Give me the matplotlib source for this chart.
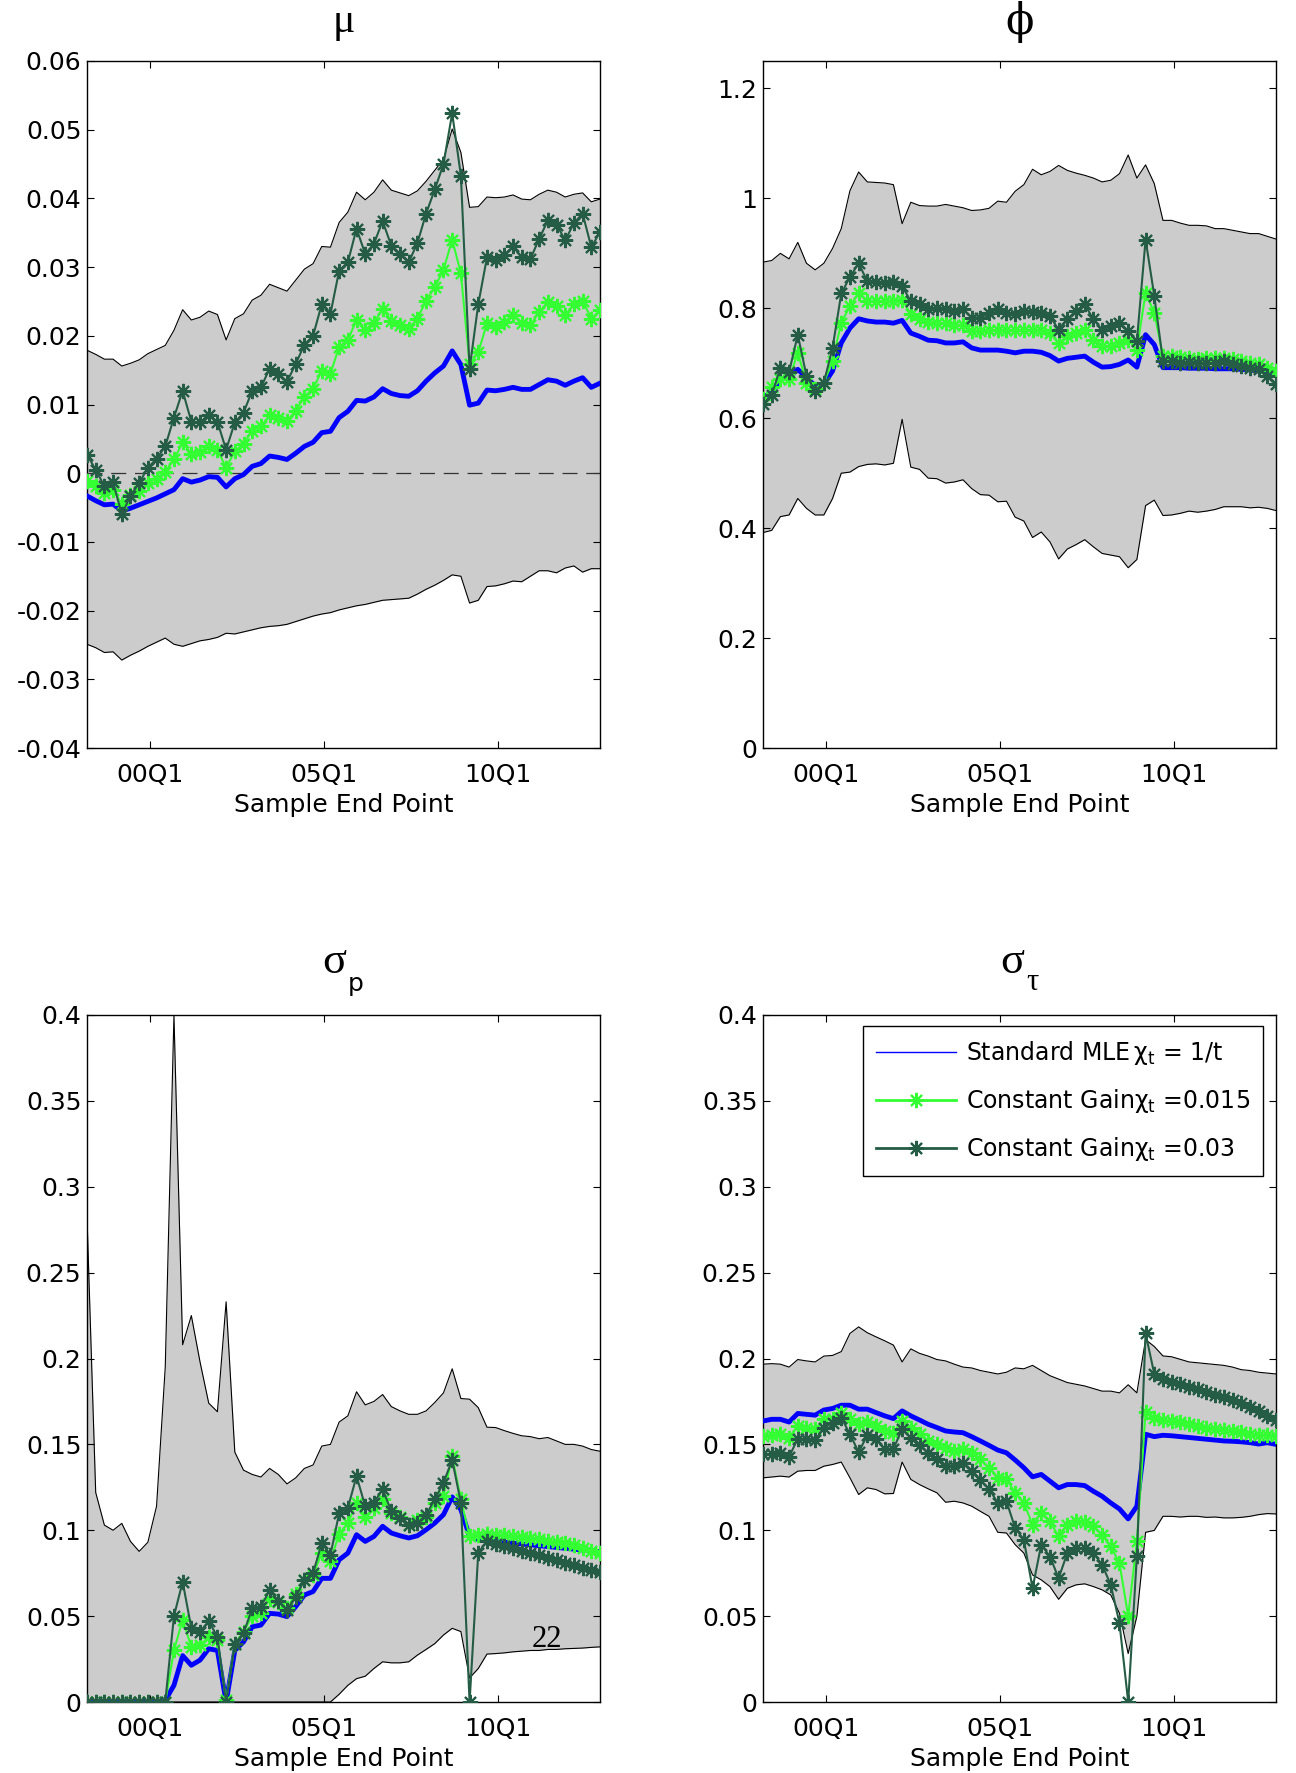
import matplotlib
matplotlib.use('Agg')
import matplotlib.pyplot as plt
import numpy as np
from matplotlib.lines import Line2D
from matplotlib.ticker import FuncFormatter

plt.rcParams['font.family'] = ['DejaVu Sans']
plt.rcParams['font.size'] = 18

# quarterly sample end points, 00Q1 / 05Q1 / 10Q1 tick positions
n_obs = 60
tick_pos = [7.3, 27.3, 47.3]
tick_labels = ['00Q1', '05Q1', '10Q1']

# ---- mu ----
mu_upper = [0.0179, 0.0173, 0.0166, 0.0166, 0.0156, 0.0160, 0.0165, 0.0174, 0.0180, 0.0186,
            0.0208, 0.0238, 0.0223, 0.0227, 0.0236, 0.0231, 0.0194, 0.0225, 0.0232, 0.0252,
            0.0259, 0.0275, 0.0270, 0.0265, 0.0281, 0.0297, 0.0305, 0.0330, 0.0329, 0.0365,
            0.0380, 0.0409, 0.0398, 0.0409, 0.0427, 0.0412, 0.0408, 0.0404, 0.0411, 0.0425,
            0.0441, 0.0457, 0.0501, 0.0467, 0.0387, 0.0388, 0.0402, 0.0401, 0.0402, 0.0405,
            0.0399, 0.0398, 0.0406, 0.0412, 0.0409, 0.0402, 0.0406, 0.0408, 0.0395, 0.0399]
mu_lower = [-0.0249, -0.0254, -0.0261, -0.0260, -0.0272, -0.0265, -0.0259, -0.0252, -0.0246, -0.0240,
            -0.0249, -0.0252, -0.0248, -0.0244, -0.0242, -0.0239, -0.0233, -0.0234, -0.0231, -0.0228,
            -0.0225, -0.0223, -0.0222, -0.0220, -0.0216, -0.0212, -0.0208, -0.0205, -0.0203, -0.0199,
            -0.0196, -0.0193, -0.0191, -0.0188, -0.0185, -0.0184, -0.0183, -0.0182, -0.0176, -0.0169,
            -0.0163, -0.0156, -0.0148, -0.0150, -0.0189, -0.0185, -0.0165, -0.0164, -0.0161, -0.0157,
            -0.0158, -0.0150, -0.0142, -0.0142, -0.0145, -0.0138, -0.0135, -0.0144, -0.0139, -0.0139]
mu_mle = [-0.0033, -0.0040, -0.0046, -0.0045, -0.0055, -0.0051, -0.0046, -0.0041, -0.0036, -0.0030,
          -0.0024, -0.0008, -0.0013, -0.0010, -0.0005, -0.0006, -0.0020, -0.0008, -0.0002, 0.0010,
          0.0014, 0.0025, 0.0023, 0.0020, 0.0029, 0.0039, 0.0045, 0.0059, 0.0061, 0.0081,
          0.0090, 0.0106, 0.0105, 0.0111, 0.0123, 0.0116, 0.0113, 0.0112, 0.0120, 0.0134,
          0.0146, 0.0156, 0.0178, 0.0158, 0.0099, 0.0102, 0.0121, 0.0120, 0.0122, 0.0125,
          0.0122, 0.0122, 0.0129, 0.0136, 0.0134, 0.0128, 0.0134, 0.0139, 0.0125, 0.0131]
mu_cg015 = [-0.0012, -0.0019, -0.0029, -0.0024, -0.0045, -0.0032, -0.0026, -0.0014, -0.0008, 0.0002,
            0.0020, 0.0045, 0.0028, 0.0031, 0.0039, 0.0034, 0.0008, 0.0032, 0.0042, 0.0062,
            0.0068, 0.0084, 0.0080, 0.0076, 0.0091, 0.0111, 0.0123, 0.0149, 0.0145, 0.0184,
            0.0194, 0.0223, 0.0208, 0.0219, 0.0239, 0.0222, 0.0215, 0.0210, 0.0225, 0.0251,
            0.0271, 0.0296, 0.0340, 0.0291, 0.0159, 0.0176, 0.0218, 0.0213, 0.0220, 0.0230,
            0.0218, 0.0215, 0.0235, 0.0249, 0.0244, 0.0230, 0.0246, 0.0251, 0.0225, 0.0237]
mu_cg03 = [0.0027, 0.0005, -0.0019, -0.0013, -0.0060, -0.0033, -0.0014, 0.0008, 0.0021, 0.0039,
           0.0081, 0.0120, 0.0075, 0.0074, 0.0084, 0.0075, 0.0034, 0.0074, 0.0088, 0.0120,
           0.0125, 0.0152, 0.0145, 0.0133, 0.0159, 0.0187, 0.0200, 0.0246, 0.0232, 0.0295,
           0.0307, 0.0356, 0.0319, 0.0334, 0.0367, 0.0331, 0.0319, 0.0307, 0.0335, 0.0378,
           0.0413, 0.0450, 0.0524, 0.0433, 0.0152, 0.0246, 0.0314, 0.0310, 0.0318, 0.0330,
           0.0314, 0.0312, 0.0341, 0.0368, 0.0362, 0.0339, 0.0364, 0.0378, 0.0329, 0.0351]

# ---- phi ----
phi_upper = [0.884, 0.887, 0.900, 0.890, 0.920, 0.882, 0.870, 0.882, 0.909, 0.945,
             1.014, 1.048, 1.030, 1.029, 1.028, 1.025, 0.954, 0.993, 0.987, 0.986,
             0.986, 0.989, 0.986, 0.983, 0.978, 0.979, 0.982, 0.995, 0.993, 1.013,
             1.025, 1.053, 1.043, 1.049, 1.060, 1.051, 1.046, 1.042, 1.037, 1.030,
             1.033, 1.045, 1.079, 1.037, 1.061, 1.027, 0.960, 0.960, 0.955, 0.951,
             0.951, 0.950, 0.945, 0.945, 0.942, 0.939, 0.936, 0.936, 0.931, 0.926]
phi_lower = [0.392, 0.396, 0.421, 0.424, 0.454, 0.436, 0.424, 0.424, 0.454, 0.500,
             0.502, 0.512, 0.516, 0.517, 0.515, 0.518, 0.598, 0.511, 0.507, 0.491,
             0.490, 0.482, 0.484, 0.488, 0.472, 0.461, 0.460, 0.448, 0.449, 0.420,
             0.413, 0.383, 0.393, 0.375, 0.344, 0.362, 0.370, 0.379, 0.366, 0.354,
             0.351, 0.348, 0.328, 0.343, 0.441, 0.451, 0.423, 0.424, 0.427, 0.431,
             0.429, 0.431, 0.434, 0.439, 0.439, 0.439, 0.437, 0.438, 0.436, 0.432]
phi_mle = [0.638, 0.647, 0.671, 0.674, 0.689, 0.674, 0.659, 0.662, 0.686, 0.737,
           0.764, 0.781, 0.777, 0.775, 0.775, 0.773, 0.778, 0.755, 0.749, 0.742,
           0.741, 0.737, 0.737, 0.739, 0.728, 0.724, 0.724, 0.724, 0.722, 0.719,
           0.722, 0.722, 0.720, 0.714, 0.704, 0.709, 0.711, 0.713, 0.702, 0.693,
           0.694, 0.698, 0.706, 0.693, 0.752, 0.734, 0.692, 0.692, 0.692, 0.691,
           0.691, 0.691, 0.690, 0.690, 0.690, 0.689, 0.688, 0.686, 0.684, 0.680]
phi_cg015 = [0.635, 0.656, 0.671, 0.671, 0.719, 0.665, 0.653, 0.665, 0.704, 0.774,
             0.804, 0.828, 0.813, 0.813, 0.813, 0.813, 0.816, 0.789, 0.780, 0.775,
             0.773, 0.773, 0.770, 0.769, 0.758, 0.758, 0.761, 0.760, 0.760, 0.761,
             0.761, 0.761, 0.760, 0.755, 0.737, 0.749, 0.755, 0.760, 0.743, 0.731,
             0.731, 0.737, 0.743, 0.725, 0.828, 0.792, 0.713, 0.713, 0.712, 0.710,
             0.708, 0.710, 0.710, 0.710, 0.707, 0.704, 0.701, 0.698, 0.692, 0.686]
phi_cg03 = [0.626, 0.642, 0.692, 0.684, 0.752, 0.677, 0.650, 0.665, 0.728, 0.827,
            0.857, 0.882, 0.849, 0.847, 0.846, 0.847, 0.840, 0.813, 0.807, 0.798,
            0.801, 0.798, 0.795, 0.798, 0.783, 0.783, 0.792, 0.798, 0.792, 0.790,
            0.796, 0.793, 0.792, 0.786, 0.761, 0.780, 0.795, 0.807, 0.780, 0.761,
            0.767, 0.774, 0.758, 0.740, 0.925, 0.823, 0.704, 0.704, 0.701, 0.702,
            0.701, 0.700, 0.701, 0.704, 0.698, 0.695, 0.692, 0.689, 0.677, 0.662]

# ---- sigma_p ----
sp_upper = [0.2825, 0.122, 0.103, 0.100, 0.104, 0.0935, 0.0877, 0.093, 0.114, 0.195,
            0.400, 0.208, 0.225, 0.198, 0.174, 0.169, 0.233, 0.1455, 0.135, 0.1325,
            0.131, 0.136, 0.1325, 0.127, 0.1305, 0.136, 0.138, 0.149, 0.150, 0.163,
            0.1666, 0.1806, 0.173, 0.175, 0.179, 0.172, 0.1695, 0.1675, 0.1675, 0.1695,
            0.1744, 0.180, 0.194, 0.1767, 0.1763, 0.1714, 0.160, 0.1598, 0.158, 0.1564,
            0.155, 0.1545, 0.1533, 0.154, 0.152, 0.150, 0.150, 0.149, 0.147, 0.146]
sp_lower = [0.0, 0.0, 0.0, 0.0, 0.0, 0.0, 0.0, 0.0, 0.0, 0.0,
            0.0, 0.0, 0.0, 0.0, 0.0, 0.0, 0.0, 0.0, 0.0, 0.0,
            0.0, 0.0, 0.0, 0.0, 0.0, 0.0, 0.0, 0.0, 0.0, 0.0045,
            0.0097, 0.0136, 0.015, 0.0195, 0.0234, 0.0228, 0.0228, 0.0234, 0.0273, 0.0306,
            0.034, 0.039, 0.0429, 0.041, 0.014, 0.0195, 0.0279, 0.0282, 0.0286, 0.0292,
            0.0296, 0.030, 0.030, 0.0306, 0.0306, 0.031, 0.0312, 0.0314, 0.0318, 0.0321]
sp_mle = [0.0, 0.0, 0.0, 0.0, 0.0, 0.0, 0.0, 0.0, 0.0, 0.001,
          0.0097, 0.027, 0.0214, 0.0244, 0.031, 0.030, 0.0, 0.030, 0.035, 0.0438,
          0.0448, 0.0516, 0.0512, 0.0497, 0.0555, 0.0623, 0.0643, 0.072, 0.072, 0.0828,
          0.0867, 0.0974, 0.0935, 0.0964, 0.1023, 0.0984, 0.0968, 0.0955, 0.0968, 0.1003,
          0.1042, 0.1091, 0.1194, 0.112, 0.0964, 0.0945, 0.094, 0.0935, 0.093, 0.0925,
          0.092, 0.0915, 0.091, 0.0905, 0.090, 0.0895, 0.089, 0.0885, 0.088, 0.0875]
sp_cg015 = [0.0, 0.0, 0.0, 0.0, 0.0, 0.0, 0.0, 0.0, 0.0, 0.0,
            0.030, 0.048, 0.032, 0.033, 0.038, 0.036, 0.001, 0.034, 0.041, 0.050,
            0.0516, 0.060, 0.058, 0.0545, 0.063, 0.071, 0.074, 0.0867, 0.082, 0.098,
            0.104, 0.116, 0.108, 0.113, 0.118, 0.110, 0.108, 0.103, 0.106, 0.108,
            0.116, 0.120, 0.143, 0.118, 0.0964, 0.0974, 0.098, 0.0975, 0.097, 0.0968,
            0.096, 0.0952, 0.0948, 0.094, 0.0932, 0.0925, 0.0912, 0.0895, 0.0882, 0.0865]
sp_cg03 = [0.0, 0.0, 0.0, 0.0, 0.0, 0.0, 0.0, 0.0, 0.0, 0.0,
           0.050, 0.070, 0.043, 0.041, 0.047, 0.038, 0.0, 0.034, 0.040, 0.0545,
           0.0555, 0.065, 0.059, 0.0536, 0.061, 0.071, 0.075, 0.0925, 0.0857, 0.110,
           0.113, 0.1315, 0.114, 0.116, 0.124, 0.111, 0.107, 0.103, 0.104, 0.109,
           0.118, 0.1276, 0.141, 0.116, 0.0, 0.087, 0.0935, 0.092, 0.091, 0.0895,
           0.088, 0.087, 0.0855, 0.084, 0.0825, 0.081, 0.080, 0.078, 0.077, 0.0755]

# ---- sigma_tau ----
st_upper = [0.1967, 0.197, 0.1967, 0.195, 0.1994, 0.1986, 0.198, 0.2014, 0.2018, 0.204,
            0.2146, 0.2184, 0.215, 0.2126, 0.2103, 0.2078, 0.198, 0.2056, 0.203, 0.2014,
            0.1994, 0.1986, 0.1967, 0.195, 0.1945, 0.193, 0.192, 0.191, 0.192, 0.1945,
            0.194, 0.196, 0.193, 0.190, 0.188, 0.186, 0.185, 0.184, 0.1825, 0.181,
            0.181, 0.180, 0.1847, 0.180, 0.211, 0.207, 0.2015, 0.201, 0.1995, 0.198,
            0.1975, 0.197, 0.1965, 0.196, 0.195, 0.1935, 0.193, 0.192, 0.1915, 0.191]
st_lower = [0.1305, 0.131, 0.1315, 0.131, 0.1344, 0.1348, 0.1348, 0.1373, 0.1383, 0.1397,
            0.1305, 0.1208, 0.1247, 0.1237, 0.1212, 0.1214, 0.1397, 0.1296, 0.1266, 0.1241,
            0.1218, 0.1163, 0.1169, 0.1159, 0.114, 0.111, 0.1081, 0.0988, 0.0984, 0.0916,
            0.0867, 0.074, 0.0711, 0.0672, 0.0598, 0.0662, 0.0682, 0.0688, 0.0672, 0.0653,
            0.0623, 0.0516, 0.0282, 0.050, 0.0988, 0.0999, 0.1081, 0.1081, 0.1077, 0.1081,
            0.1081, 0.1075, 0.1077, 0.1072, 0.1072, 0.1075, 0.1081, 0.1091, 0.1097, 0.1095]
st_mle = [0.1636, 0.1646, 0.1646, 0.163, 0.168, 0.1675, 0.167, 0.170, 0.1709, 0.1728,
          0.1728, 0.1705, 0.1705, 0.1685, 0.1666, 0.165, 0.1695, 0.1666, 0.1642, 0.1617,
          0.1598, 0.1578, 0.1572, 0.1568, 0.1545, 0.152, 0.1494, 0.1467, 0.1451, 0.1409,
          0.1364, 0.1311, 0.1325, 0.1286, 0.1247, 0.1266, 0.1266, 0.126, 0.1227, 0.1198,
          0.1159, 0.1124, 0.1066, 0.114, 0.1559, 0.1545, 0.1553, 0.155, 0.1545, 0.154,
          0.1535, 0.153, 0.1525, 0.152, 0.1518, 0.1515, 0.151, 0.1502, 0.151, 0.150]
st_cg015 = [0.1549, 0.1553, 0.1559, 0.154, 0.1607, 0.1598, 0.1588, 0.1646, 0.165, 0.1685,
            0.1646, 0.1617, 0.163, 0.1607, 0.1578, 0.1568, 0.1636, 0.1598, 0.1559, 0.152,
            0.150, 0.148, 0.146, 0.1471, 0.1451, 0.1412, 0.1364, 0.1305, 0.1296, 0.1218,
            0.1159, 0.1033, 0.110, 0.1052, 0.0964, 0.1033, 0.1052, 0.1046, 0.1023, 0.0974,
            0.0906, 0.0808, 0.050, 0.0935, 0.1689, 0.1656, 0.1642, 0.1638, 0.163, 0.162,
            0.1608, 0.1598, 0.159, 0.1585, 0.1575, 0.157, 0.1562, 0.1555, 0.1552, 0.1549]
st_cg03 = [0.1442, 0.1442, 0.1447, 0.1428, 0.1533, 0.1529, 0.1525, 0.1598, 0.1627, 0.1656,
           0.1559, 0.1455, 0.1553, 0.1529, 0.1471, 0.1475, 0.1588, 0.1539, 0.1494, 0.1451,
           0.1412, 0.1377, 0.1377, 0.1393, 0.1344, 0.1292, 0.1241, 0.1159, 0.1169, 0.1013,
           0.0945, 0.0662, 0.0916, 0.0847, 0.0721, 0.0867, 0.0896, 0.0896, 0.0867, 0.0799,
           0.0682, 0.0458, 0.0, 0.0851, 0.2146, 0.191, 0.188, 0.1865, 0.185, 0.1835,
           0.182, 0.1805, 0.179, 0.1775, 0.176, 0.174, 0.172, 0.1695, 0.1665, 0.164]

blue = '#0000ff'
light_green = '#33ff33'
dark_green = '#245c45'
band_grey = '#cccccc'
star = (8, 2, 0)

fig = plt.figure(figsize=(12.96, 17.73), dpi=100)
W, H = 1296.0, 1773.0


def axes_px(left, top, right, bottom):
    return fig.add_axes([left / W, 1 - bottom / H, (right - left) / W, (bottom - top) / H])


ax_mu = axes_px(87, 61, 600, 748)
ax_phi = axes_px(763, 61, 1276, 748)
ax_sp = axes_px(87, 1015, 600, 1702)
ax_st = axes_px(763, 1015, 1276, 1702)

x = np.arange(n_obs)


def draw_panel(ax, lower, upper, mle, cg015, cg03, ylim, yticks):
    ax.fill_between(x, lower, upper, color=band_grey, lw=0, zorder=1)
    ax.plot(x, upper, color='black', lw=0.8, zorder=2)
    ax.plot(x, lower, color='black', lw=0.8, zorder=2)
    ax.plot(x, mle, color=blue, lw=3.5, zorder=4, solid_joinstyle='round')
    ax.plot(x, cg015, color=light_green, lw=1.5, marker=star, ms=11, mew=1.5, zorder=5)
    ax.plot(x, cg03, color=dark_green, lw=1.5, marker=star, ms=11, mew=1.5, zorder=6)
    ax.set_xlim(0, n_obs - 1)
    ax.set_ylim(*ylim)
    ax.set_yticks(yticks)
    ax.yaxis.set_major_formatter(FuncFormatter(lambda v, p: '%g' % round(v, 4)))
    ax.set_xticks(tick_pos)
    ax.set_xticklabels(tick_labels)
    ax.set_xlabel('Sample End Point', labelpad=4)
    ax.tick_params(direction='in', length=5, width=0.8, top=True, right=True, labelsize=18)
    ax.tick_params(axis='x', pad=11)
    ax.tick_params(axis='y', pad=4)
    for sp in ax.spines.values():
        sp.set_linewidth(1.0)


draw_panel(ax_mu, mu_lower, mu_upper, mu_mle, mu_cg015, mu_cg03,
           (-0.04, 0.06), [-0.04, -0.03, -0.02, -0.01, 0, 0.01, 0.02, 0.03, 0.04, 0.05, 0.06])
ax_mu.axhline(0, color='#333333', lw=0.9, dashes=(12, 7), zorder=3)

draw_panel(ax_phi, phi_lower, phi_upper, phi_mle, phi_cg015, phi_cg03,
           (0, 1.25), [0, 0.2, 0.4, 0.6, 0.8, 1.0, 1.2])
draw_panel(ax_sp, sp_lower, sp_upper, sp_mle, sp_cg015, sp_cg03,
           (0, 0.4), [0, 0.05, 0.1, 0.15, 0.2, 0.25, 0.3, 0.35, 0.4])
draw_panel(ax_st, st_lower, st_upper, st_mle, st_cg015, st_cg03,
           (0, 0.4), [0, 0.05, 0.1, 0.15, 0.2, 0.25, 0.3, 0.35, 0.4])

greek = ['Liberation Serif', 'DejaVu Serif']
ax_mu.text(0.5, 1.042, '\u03bc', transform=ax_mu.transAxes, ha='center', va='baseline',
           fontsize=30, family=greek)
ax_phi.text(0.5, 1.040, '\u03d5', transform=ax_phi.transAxes, ha='center', va='baseline',
            fontsize=30, family=['DejaVu Serif'])
ax_sp.text(0.482, 1.061, '\u03c3', transform=ax_sp.transAxes, ha='center', va='baseline',
           fontsize=32, family=greek)
ax_sp.text(0.524, 1.035, 'p', transform=ax_sp.transAxes, ha='center', va='baseline',
           fontsize=18)
ax_st.text(0.485, 1.061, '\u03c3', transform=ax_st.transAxes, ha='center', va='baseline',
           fontsize=32, family=greek)
ax_st.text(0.525, 1.036, '\u03c4', transform=ax_st.transAxes, ha='center', va='baseline',
           fontsize=22, family=greek)

handles = [Line2D([], [], color=blue, lw=1.0),
           Line2D([], [], color=light_green, lw=2.0, marker=star, ms=11, mew=1.5),
           Line2D([], [], color=dark_green, lw=2.0, marker=star, ms=11, mew=1.5)]
labels = [r'Standard MLE$\,\mathregular{\chi_t}$ = 1/t',
          r'Constant Gain$\mathregular{\chi_t}$ =0.015',
          r'Constant Gain$\mathregular{\chi_t}$ =0.03']
leg = ax_st.legend(handles, labels, loc='upper right', bbox_to_anchor=(0.974, 0.984),
                   borderaxespad=0, fontsize=17, handlelength=3.4, handletextpad=0.4,
                   labelspacing=0.85, borderpad=0.55, fancybox=False, framealpha=1)
leg.get_frame().set_edgecolor('black')
leg.get_frame().set_linewidth(1.0)

# page number printed over the panel in the source document
fig.text(547 / W, 1 - 1647 / H, '22', ha='center', va='baseline', fontsize=22,
         family=['Liberation Serif'])

fig.savefig('out.png', dpi=100)
